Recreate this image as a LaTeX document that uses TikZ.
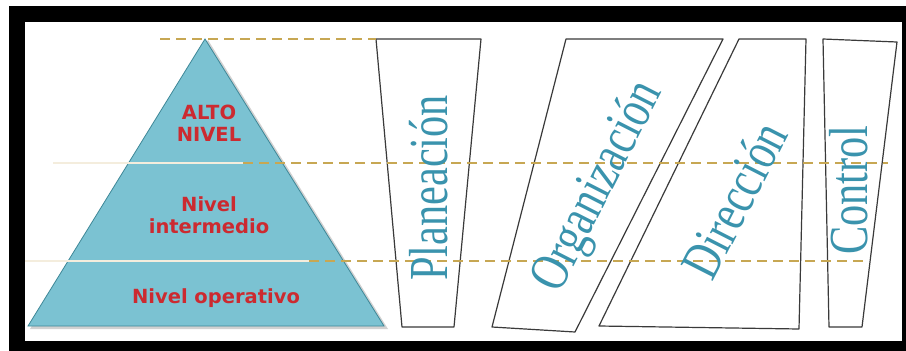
\documentclass[tikz,border=0pt]{standalone}
\usepackage{fontspec}
\setmainfont{Liberation Serif}
\newfontfamily\lvlfont{DejaVu Sans}
\definecolor{pyrfill}{HTML}{7BC2D2}
\definecolor{pyredge}{HTML}{3E8797}
\definecolor{lvlred}{HTML}{CC2A30}
\definecolor{fnblue}{HTML}{3A93AD}
\definecolor{guidegold}{HTML}{C7A753}
\definecolor{boxgray}{HTML}{3A3A3A}
\usetikzlibrary{positioning,calc}

\begin{document}
\begin{tikzpicture}[
      x=1pt, y=-1pt,
      lvl/.style={font=\lvlfont\bfseries\fontsize{19.5}{22}\selectfont, text=lvlred,
                  align=center, inner sep=0pt},
      fn/.style={font=\fontsize{55}{55}\selectfont, text=fnblue, inner sep=0pt},
      fbox/.style={draw=boxgray, line width=1.2pt, line join=round},
      guide/.style={draw=guidegold, line width=1.5pt, dash pattern=on 10pt off 6pt},
      sep/.style={draw=white!80!guidegold, line width=1.2pt},
    ]
    \useasboundingbox (0,0) rectangle (906,351);
    \fill[black] (9,6) rectangle (906,351);
    \fill[white] (25,22) rectangle (902,341);

    % pyramid
    \coordinate (apex) at (205,39);
    \coordinate (base-w) at (28,326);
    \coordinate (base-e) at (384,326);
    \fill[black!40, opacity=.45] ($(base-w)+(2,3)$) -- ($(base-e)+(4,3)$) -- ($(apex)+(3,1)$) -- cycle;
    \filldraw[fill=pyrfill, draw=pyredge, line width=.8pt] (apex) -- (base-e) -- (base-w) -- cycle;

    % functions
    \draw[fbox] (376,39) coordinate (plan-nw) -- (481,39) -- (454,327) -- (402,327) -- cycle;
    \draw[fbox] (566,39) -- (723,39) -- (575,332) -- (492,327) -- cycle;
    \draw[fbox] (739,39) -- (806,39) -- (799,329) -- (599,326) -- cycle;
    \draw[fbox] (823,39) -- (897,42) -- (862,327) -- (829,327) -- cycle;

    % level guides
    \coordinate (top-w) at (160,39);
    \coordinate (mid-w) at (53,163);
    \coordinate (mid-c) at (243,163);
    \coordinate (mid-e) at (888,163);
    \coordinate (low-w) at (25,261);
    \coordinate (low-c) at (309,261);
    \coordinate (low-e) at (867,261);
    \draw[sep] (mid-w) -- (mid-c);
    \draw[sep] (low-w) -- (low-c);
    \draw[guide] (top-w) -- (plan-nw);
    \draw[guide] (mid-c) -- (mid-e);
    \draw[guide] (low-c) -- (low-e);

    \node[lvl] (alto) at (209,123) {ALTO\\NIVEL};
    \node[lvl] (inter) at (209,215) {Nivel\\intermedio};
    \node[lvl] (oper) at (216,298) {Nivel operativo};

    \node[fn, rotate=90] (plan) at (429,188) {\scalebox{.77}[1]{Planeación}};
    \node[fn, rotate=63] (org) at (599,187) {\scalebox{.77}[1]{Organización}};
    \node[fn, rotate=63] (dir) at (734,200) {\scalebox{.77}[1]{Dirección}};
    \node[fn, rotate=90] (ctrl) at (849,190) {\scalebox{.77}[1]{Control}};
  \end{tikzpicture}
\end{document}
